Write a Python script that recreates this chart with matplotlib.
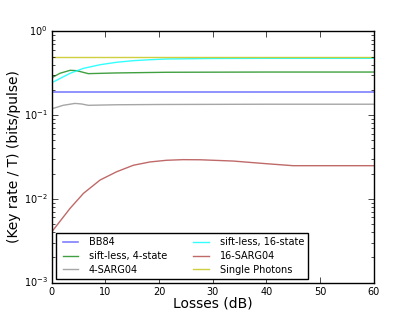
import numpy as np
import matplotlib
matplotlib.use('Agg')
from matplotlib import pyplot as plt

plt.style.use('classic')
plt.rcParams['mathtext.fontset'] = 'dejavusans'
plt.rcParams['figure.facecolor'] = 'white'

# losses (dB) and key rates
bb84_x = [0, 60]
bb84_y = [0.187, 0.187]

sp_x = [0, 60]
sp_y = [0.5, 0.5]

sl4_x = [0, 1.5, 3.4, 4.6, 5.8, 6.8, 12, 21.4, 40, 60]
sl4_y = [0.280, 0.316, 0.343, 0.340, 0.325, 0.313, 0.319, 0.325, 0.327, 0.327]

sl16_x = [0, 3.4, 5.9, 9, 12.1, 15.2, 18.3, 21.4, 30, 40, 60]
sl16_y = [0.244, 0.316, 0.362, 0.400, 0.428, 0.447, 0.459, 0.468, 0.475, 0.477, 0.477]

s4_x = [0, 2.1, 4.3, 5.5, 6.8, 12, 20, 40, 60]
s4_y = [0.119, 0.131, 0.138, 0.136, 0.131, 0.133, 0.134, 0.135, 0.135]

s16_x = [0, 3.4, 5.9, 9, 12.1, 15.2, 18.3, 21.4, 24.5, 27.7, 33.8, 40, 45, 60]
s16_y = [0.00405, 0.00771, 0.01165, 0.0168, 0.0211, 0.0252, 0.0276, 0.0289,
         0.0294, 0.0293, 0.0283, 0.0263, 0.0249, 0.0249]

fig = plt.figure(figsize=(4.15, 3.14), dpi=100)
ax = fig.add_axes([0.125, 0.1, 0.775, 0.8])

ax.plot(bb84_x, bb84_y, color='b', alpha=0.5, lw=1.2, label='BB84')
ax.plot(sl4_x, sl4_y, color='g', alpha=0.75, lw=1, label='sift-less, 4-state')
ax.plot(s4_x, s4_y, color='gray', alpha=0.7, lw=1, label='4-SARG04')
ax.plot(sl16_x, sl16_y, color='cyan', alpha=0.8, lw=1, label='sift-less, 16-state')
ax.plot(s16_x, s16_y, color='brown', alpha=0.7, lw=1, label='16-SARG04')
ax.plot(sp_x, sp_y, color='y', alpha=0.75, lw=1, label='Single Photons')

ax.set_yscale('log')
ax.set_xlim(0, 60)
ax.set_ylim(1e-3, 1)
ax.set_xticks([0, 10, 20, 30, 40, 50, 60])
ax.tick_params(labelsize=7, pad=3)
ax.set_xlabel('Losses (dB)', fontsize=10, labelpad=0)
ax.set_ylabel('(Key rate / T) (bits/pulse)', fontsize=10, labelpad=2)

ax.legend(loc='lower left', ncol=2, fontsize=7, handlelength=2.2,
          borderaxespad=0.4, labelspacing=0.4, columnspacing=2.4)

plt.savefig('out.png', dpi=100)
